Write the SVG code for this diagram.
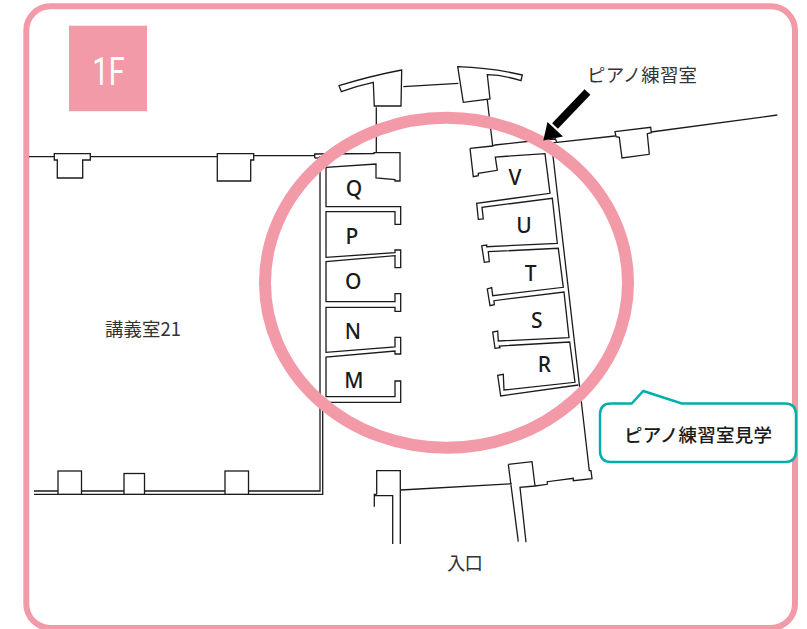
<svg xmlns="http://www.w3.org/2000/svg" width="807" height="629" viewBox="0 0 807 629">
<style>
.w{fill:none;stroke:#1a1a1a;stroke-width:1.3;stroke-linejoin:miter}
.f{fill:#fff;stroke:#1a1a1a;stroke-width:1.3}
.jp{font-family:"Noto Sans CJK JP","Noto Sans",sans-serif;font-size:18.4px;fill:#333}
.rm{font-family:"Noto Sans","Noto Sans CJK JP",sans-serif;font-size:21px;font-weight:500;fill:#1a1a1a;text-anchor:middle}
</style>
<rect width="807" height="629" fill="#fff"/>
<rect id="frame" x="26.3" y="6.3" width="768.7" height="621.7" rx="24" fill="none" stroke="#f29aa8" stroke-width="6"/>
<g id="floor-tag">
<rect x="69" y="25.7" width="78" height="85.5" fill="#f29aa8"/>
<text x="92.5" y="85" font-family="Roboto,'Noto Sans',sans-serif" font-size="39" font-weight="400" fill="#fff" textLength="32" lengthAdjust="spacingAndGlyphs">1F</text>
</g>
<g id="walls">
<path class="w" d="M29 156.7H54.3M90.3 156.7H217.3M254 155.7H314.7M376.3 107.3V152M487.3 100L492.7 146M403.3 86.7L458.3 83.3M556.7 142.3L615 136M651 132L777.3 115"/>
<path class="f" d="M54.3 153.7H90.3V160H82.7V178H57.3V160H54.3Z"/>
<path class="f" d="M217.3 153.7H253.7V160H250.7V181H217.3Z"/>
<path class="f" d="M615 131.7L650.7 127.3L651.3 132.7L647.3 133.7L649.3 154.3L622 158L619.3 137.3L616 136.7Z"/>
<path class="f" d="M339 85.7Q370 76 401.7 70L401 106H374.3L373.3 82.3Q356 86 341.3 91.7Z"/>
<path class="f" d="M457.7 66.7Q493 68 522.3 75L521 80.7Q503 75 487.3 74.7L490 99L463.3 102.3Z"/>
<path class="w" d="M320 156V491H34M34 494.3H322.7V402"/>
<rect x="58" y="471" width="23.5" height="23.3" class="f"/>
<rect x="124" y="473.5" width="20.5" height="20.8" class="f"/>
<rect x="225" y="471" width="23.5" height="23.3" class="f"/>
<path class="w" d="M314.7 158V154L374 153.5V152.7H400V181H395V179.5L376 178V164L326 167.3V206.7H400.7V224.3H395V211.7H326V257.3L395 252.7V250H400.7V267.7H395V255.7L326 261.7V301.7H395V293.7H400.7V311.3H395V307.3H326V352.3L395 347V337.3H400.7V354H395V351L326 357V396.7H395V381H400.7V402.3H320"/>
<path class="w" d="M314.7 158H320"/>
<path class="w" d="M470 148.3L492.7 146L495 145L545 139.5L555.5 139L556.7 142.3L552 143M470 148.3L473.3 176.7L478.3 175.7V173.3L497.3 170.3L495.3 157L545 153.7L550 193.3L476.7 203.3L478.3 219.3L483.3 219L482 207.3L552.3 198.3L557.3 243.3L486.7 246.7V245L481.7 245.7L484.3 262.3L489.3 261.7L488.3 251.7L558.3 248.3L563.3 287.3L492.7 295.7L491.7 287.7L487.3 289L490 305.7L494.3 304.7L494 300.7L564 292L569 337.7L498.3 341L497.7 331L492.7 332L495 348.3L500 347.7L499.3 346L569.7 342L575 382.3L504 390L503.3 374.3L497.7 375.3L500.7 396L578.3 385"/>
<path class="w" d="M551.5 143L589.3 470.7H591L592 478.7L573.3 480.7V478.3L547.3 481.7V484.3L535 486L520 487.3L526 542.3M508.3 464.3L532 461.7L535 486M508.3 464.3L518.3 541.7M511.7 483.7L400.7 490"/>
<path class="w" d="M376.7 494.3V470.7H400.3V544M374.3 506.7V494.3H376.7M374.3 495.7H392.7V544"/>
</g>
<ellipse id="highlight" cx="446.5" cy="282.8" rx="181.5" ry="165" fill="none" stroke="#f29aa8" stroke-width="12"/>
<g id="connectors">
<path d="M587.5 92L555 126" fill="none" stroke="#000" stroke-width="8"/>
<path d="M543.3 140.5L547.5 122L563 136.5Z" fill="#000"/>
</g>
<g id="labels">
<text class="rm" x="354" y="195.5">Q</text>
<text class="rm" x="352" y="244">P</text>
<text class="rm" x="353.3" y="288.5">O</text>
<text class="rm" x="353" y="338.5">N</text>
<text class="rm" x="354" y="387.5">M</text>
<text class="rm" x="515" y="185">V</text>
<text class="rm" x="524" y="233">U</text>
<text class="rm" x="530.7" y="280.5">T</text>
<text class="rm" x="536.7" y="328">S</text>
<text class="rm" x="544.3" y="371.7">R</text>
<text class="jp" x="105" y="335.5" textLength="76">講義室21</text>
<text class="jp" x="447" y="570" textLength="36">入口</text>
<text class="jp" x="587" y="82" textLength="110">ピアノ練習室</text>
</g>
<g id="callout">
<path d="M611 403.5H631.7L643.3 391L681.7 403.5H785Q796 403.5 796 414.5V451Q796 462 785 462H611Q600 462 600 451V414.5Q600 403.5 611 403.5Z" fill="#fff" stroke="#00afaa" stroke-width="2.4"/>
<text class="jp" x="624" y="441.5" textLength="148" style="font-size:18.5px;font-weight:500;fill:#1a1a1a">ピアノ練習室見学</text>
</g>
</svg>
